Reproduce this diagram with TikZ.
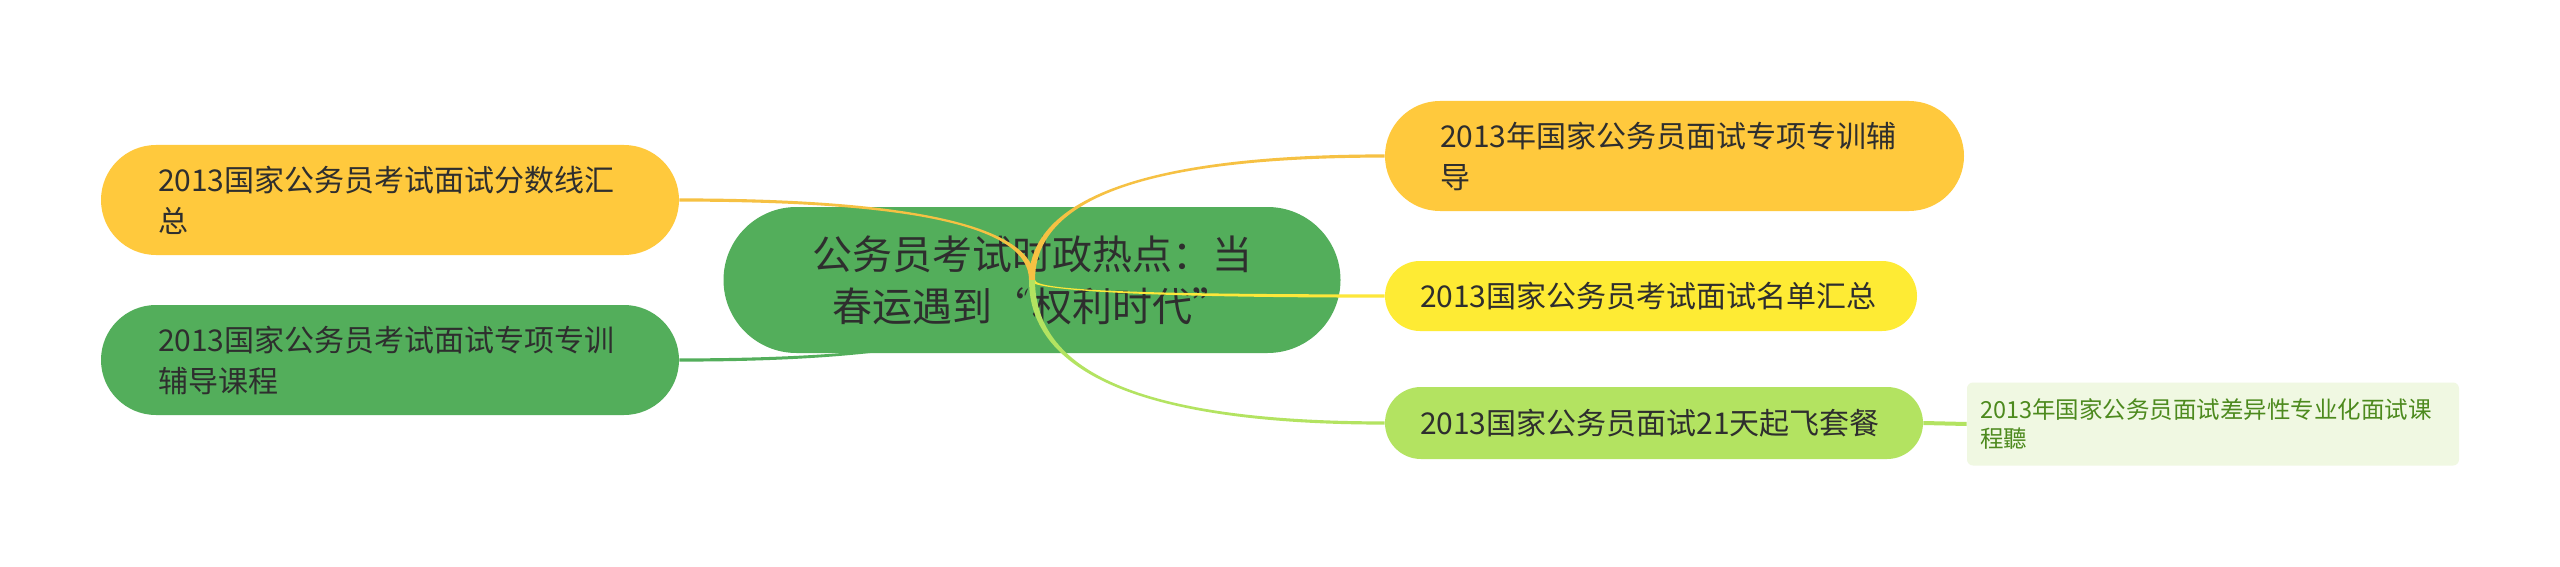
\documentclass[tikz,border=0pt]{standalone}
\usepackage{fontspec}
\setmainfont{Noto Sans CJK SC}
\usetikzlibrary{calc}
\definecolor{ochre}{HTML}{FFC93D}
\definecolor{ochreline}{HTML}{F6C143}
\definecolor{mgreen}{HTML}{53AE5B}
\definecolor{myellow}{HTML}{FEEB34}
\definecolor{yellowline}{HTML}{FDE73A}
\definecolor{lgreen}{HTML}{B3E361}
\definecolor{leaffill}{HTML}{F0F8E2}
\definecolor{leaftext}{HTML}{4D8A1E}
\definecolor{txt}{HTML}{2E2E2E}
\tikzset{
  topic/.style={inner ysep=0pt, text=txt, font=\fontsize{15pt}{20.5pt}\selectfont, align=left},
  leafbox/.style={fill=leaffill, rounded corners=3pt, inner ysep=0pt, inner xsep=6.5pt,
    text width=233pt, minimum height=41.5pt, text=leaftext, align=left,
    font=\fontsize{11.75pt}{14.5pt}\selectfont},
}
% #1 child anchor, #2 sign, #3 colour
\newcommand\taperedge[3]{%
  \fill[#3] ($(#1)+(0,-1.6)$) .. controls ($(#1)!0.667!(cen.center|-#1)+(0,-1.6)$) and ($(cen.center)!0.667!(cen.center|-#1)+(#2*3,0)$) .. ($(cen.center)+(#2*3,0)$)
    -- ($(cen.center)+(#2*-3,0)$) .. controls ($(cen.center)!0.667!(cen.center|-#1)+(#2*-3,0)$) and ($(#1)!0.667!(cen.center|-#1)+(0,1.6)$) .. ($(#1)+(0,1.6)$) -- cycle;}
\begin{document}
\begin{tikzpicture}[x=0.5pt,y=-0.5pt]
\useasboundingbox[fill=white] (0,0) rectangle (2560,567);
% central topic
\node[fill=mgreen, rounded corners=36.5pt, minimum width=308.5pt, minimum height=73pt,
  inner sep=0pt, align=center, text=txt, font=\fontsize{20pt}{26pt}\selectfont]
  (cen) at (1032,280) {公务员考试时政热点：当\\春运遇到“权利时代”};
% main topics
\node[topic, fill=ochre, rounded corners=27.5pt, inner xsep=28.5pt, text width=232pt, minimum height=55pt]
  (l1) at (390,200) {2013国家公务员考试面试分数线汇\\总};
\node[topic, fill=mgreen, rounded corners=27.5pt, inner xsep=28.5pt, text width=232pt, minimum height=55pt]
  (l2) at (390,360) {2013国家公务员考试面试专项专训\\辅导课程};
\node[topic, fill=ochre, rounded corners=27.5pt, inner xsep=27.5pt, text width=234.5pt, minimum height=55pt]
  (r1) at (1674.5,156) {2013年国家公务员面试专项专训辅\\导};
\node[topic, fill=myellow, rounded corners=17.5pt, inner xsep=17.5pt, text width=231pt, minimum height=35pt]
  (r2) at (1651,296) {2013国家公务员考试面试名单汇总};
\node[topic, fill=lgreen, rounded corners=18pt, inner xsep=17.5pt, text width=234pt, minimum height=36pt]
  (r3) at (1654,423) {2013国家公务员面试21天起飞套餐};
\node[leafbox] (lf) at (2213,424) {2013年国家公务员面试差异性专业化面试课\\程聽};
% connectors
\taperedge{l1.east}{1}{ochreline}
\taperedge{l2.east}{-1}{mgreen}
\taperedge{r1.west}{-1}{ochreline}
\taperedge{r2.west}{1}{yellowline}
\taperedge{r3.west}{1}{lgreen}
\draw[lgreen, line width=2pt] (r3.east) -- (lf.west);
\end{tikzpicture}
\end{document}
